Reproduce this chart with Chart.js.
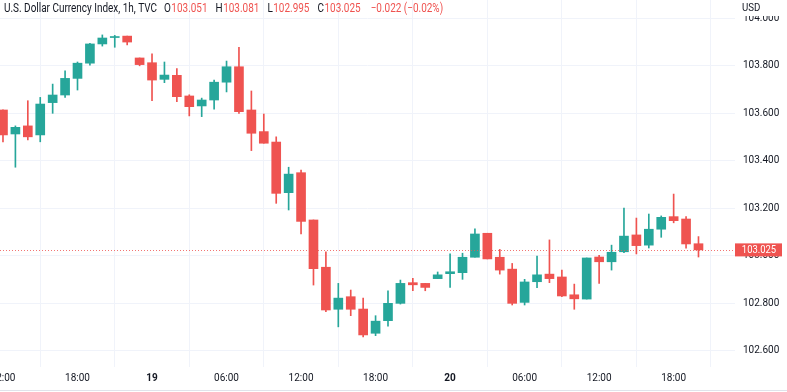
<!DOCTYPE html>
<html>
<head>
<meta charset="utf-8">
<script src="https://cdn.jsdelivr.net/npm/chart.js@4.4.0/dist/chart.umd.min.js"></script>
<style>
  html, body { margin: 0; padding: 0; background: #fff; }
  #wrap { position: relative; width: 787px; height: 392px; }
</style>
</head>
<body>
<div id="wrap"><canvas id="chart" width="787" height="392"></canvas></div>
<script>
// hours counted from 18th 00:00 (1h candles, 18th 12:00 -> 20th 20:00)
const hours = [12, 13, 14, 15, 16, 17, 18, 19, 20, 21, 22, 23,
  24, 25, 26, 27, 28, 29, 30, 31, 32, 33, 34, 35, 36, 37, 38, 39, 40, 41, 42, 43, 44, 45, 46, 47,
  48, 49, 50, 51, 52, 53, 54, 55, 56, 57, 58, 59, 60, 61, 62, 63, 64, 65, 66, 67, 68];

const open = [103.614, 103.513, 103.547, 103.509, 103.645, 103.677, 103.747, 103.811, 103.892, 103.919, 103.925, 103.833,
  103.813, 103.743, 103.760, 103.673, 103.631, 103.656, 103.731, 103.796, 103.614, 103.523, 103.479, 103.266,
  103.350, 103.151, 102.952, 102.775, 102.828, 102.776, 102.674, 102.727, 102.800, 102.887, 102.884, 102.904,
  102.925, 102.929, 102.994, 103.095, 102.994, 102.944, 102.804, 102.891, 102.923, 102.911, 102.836, 102.818,
  102.995, 102.975, 103.017, 103.088, 103.045, 103.112, 103.165, 103.155, 103.051];
const high = [103.615, 103.547, 103.653, 103.667, 103.723, 103.779, 103.816, 103.895, 103.930, 103.928, 103.925, 103.833,
  103.850, 103.816, 103.788, 103.678, 103.664, 103.740, 103.820, 103.878, 103.694, 103.597, 103.501, 103.373,
  103.361, 103.151, 103.017, 102.884, 102.856, 102.822, 102.748, 102.853, 102.898, 102.905, 102.884, 102.932,
  103.008, 103.011, 103.114, 103.095, 103.027, 102.968, 102.901, 102.999, 103.067, 102.940, 102.881, 102.991,
  103.002, 103.045, 103.201, 103.159, 103.176, 103.168, 103.260, 103.165, 103.081];
const low = [103.480, 103.373, 103.488, 103.480, 103.600, 103.667, 103.698, 103.803, 103.883, 103.878, 103.888, 103.800,
  103.653, 103.729, 103.649, 103.589, 103.586, 103.617, 103.690, 103.600, 103.443, 103.474, 103.221, 103.193,
  103.092, 102.877, 102.765, 102.701, 102.748, 102.659, 102.664, 102.704, 102.797, 102.853, 102.853, 102.904,
  102.867, 102.901, 102.994, 102.987, 102.923, 102.793, 102.793, 102.866, 102.887, 102.828, 102.775, 102.818,
  102.884, 102.940, 103.013, 103.008, 103.033, 103.078, 103.139, 103.032, 102.995];
const close = [103.509, 103.541, 103.501, 103.639, 103.677, 103.747, 103.811, 103.892, 103.917, 103.922, 103.900, 103.805,
  103.740, 103.761, 103.670, 103.628, 103.656, 103.731, 103.796, 103.607, 103.516, 103.474, 103.263, 103.344,
  103.145, 102.946, 102.772, 102.822, 102.775, 102.667, 102.725, 102.800, 102.884, 102.878, 102.867, 102.920,
  102.933, 102.994, 103.092, 102.987, 102.940, 102.800, 102.890, 102.920, 102.904, 102.831, 102.819, 102.991,
  102.975, 103.015, 103.083, 103.043, 103.112, 103.162, 103.148, 103.050, 103.025];

const xTickHours = [12, 18, 24, 30, 36, 42, 48, 54, 60, 66];
const xTickLabels = ['12:00', '18:00', '19', '06:00', '12:00', '18:00', '20', '06:00', '12:00', '18:00'];
const yTicks = [102.6, 102.8, 103.0, 103.2, 103.4, 103.6, 103.8, 104.0];

const UP = '#26a69a';
const DOWN = '#ef5350';
const TEXT = '#131722';
const FONT = "Roboto, 'Liberation Sans', sans-serif";

const colors = open.map((o, i) => close[i] >= o ? UP : DOWN);

// draws text squeezed horizontally (the original uses a narrow face)
function narrowText(c, str, x, y, sx) {
  c.save();
  c.translate(x, y);
  c.scale(sx, 1);
  c.fillText(str, 0, 0);
  c.restore();
  return c.measureText(str).width * sx;
}

const overlay = {
  id: 'overlay',
  afterDatasetsDraw(chart) {
    const c = chart.ctx;
    const area = chart.chartArea;
    const y = Math.round(chart.scales.y.getPixelForValue(close[close.length - 1])) + 0.5;
    c.save();
    c.strokeStyle = 'rgba(239,83,80,0.8)';
    c.lineWidth = 1;
    c.setLineDash([1, 2]);
    c.beginPath();
    c.moveTo(area.left, y);
    c.lineTo(area.right, y);
    c.stroke();
    c.restore();
  },
  afterDraw(chart) {
    const c = chart.ctx;
    const area = chart.chartArea;
    const sx = 0.83;
    c.save();

    // header line
    c.textBaseline = 'middle';
    c.font = '12px ' + FONT;
    let x = 4;
    const ty = 9;
    c.fillStyle = TEXT;
    x += narrowText(c, 'U.S. Dollar Currency Index, 1h, TVC', x, ty, sx) + 7;
    const last = open.length - 1;
    const parts = [['O', open[last]], ['H', high[last]], ['L', low[last]], ['C', close[last]]];
    parts.forEach(([k, v]) => {
      c.fillStyle = TEXT;
      x += narrowText(c, k, x, ty, sx) + 0.5;
      c.fillStyle = DOWN;
      x += narrowText(c, v.toFixed(3), x, ty, sx) + 8;
    });
    c.fillStyle = DOWN;
    narrowText(c, '\u22120.022 (\u22120.02%)', x + 2, ty, sx);

    // currency label over the top of the price scale
    c.fillStyle = '#fff';
    c.fillRect(area.right, 0, 787 - area.right, 16);
    c.fillStyle = TEXT;
    c.font = '11px ' + FONT;
    narrowText(c, 'USD', area.right + 7, 8, 0.88);

    // last price tag
    const py = chart.scales.y.getPixelForValue(close[last]);
    c.fillStyle = DOWN;
    c.fillRect(area.right, py - 6.5, 47, 13);
    c.fillStyle = '#fff';
    c.font = '10.5px ' + FONT;
    const w = c.measureText(close[last].toFixed(3)).width * 0.9;
    narrowText(c, close[last].toFixed(3), area.right + 24 - w / 2, py + 0.5, 0.9);

    // bottom edge
    c.fillStyle = '#e0e3eb';
    c.fillRect(0, 390, 787, 1);
    c.restore();
  }
};

new Chart(document.getElementById('chart'), {
  type: 'bar',
  data: {
    datasets: [
      {
        data: hours.map((h, i) => ({ x: h, y: [open[i], close[i]] })),
        backgroundColor: colors,
        barThickness: 9,
        minBarLength: 1,
        grouped: false,
        order: 0
      },
      {
        data: hours.map((h, i) => ({ x: h, y: [low[i], high[i]] })),
        backgroundColor: colors,
        barThickness: 1,
        grouped: false,
        order: 1
      }
    ]
  },
  options: {
    responsive: false,
    animation: false,
    devicePixelRatio: 1,
    layout: { padding: 0 },
    plugins: { legend: { display: false }, tooltip: { enabled: false } },
    scales: {
      x: {
        type: 'linear',
        min: 11.76,
        max: 70.94,
        offset: false,
        grid: { color: '#f0f3fa', drawTicks: false },
        border: { display: false },
        ticks: {
          padding: 5,
          maxRotation: 0,
          autoSkip: false,
          color: TEXT,
          font: (ctx) => ({
            family: FONT,
            size: 10,
            weight: (ctx.tick && (ctx.tick.value === 24 || ctx.tick.value === 48)) ? 'bold' : 'normal'
          }),
          callback: (v) => xTickLabels[xTickHours.indexOf(v)]
        },
        afterBuildTicks: (s) => { s.ticks = xTickHours.map(v => ({ value: v })); },
        afterFit: (s) => {
          s.height = 25;
          s.paddingLeft = 0;
          s.paddingRight = 0;
        }
      },
      y: {
        position: 'right',
        min: 102.532,
        max: 104.077,
        grid: { color: '#f0f3fa', drawTicks: false },
        border: { display: false },
        ticks: {
          padding: 8,
          color: TEXT,
          font: { family: FONT, size: 10 },
          callback: (v) => Number(v).toFixed(3)
        },
        afterBuildTicks: (s) => { s.ticks = yTicks.map(v => ({ value: v })); },
        afterFit: (s) => {
          s.width = 52;
          s.paddingTop = 0;
          s.paddingBottom = 0;
        }
      }
    }
  },
  plugins: [overlay]
});
</script>
</body>
</html>
